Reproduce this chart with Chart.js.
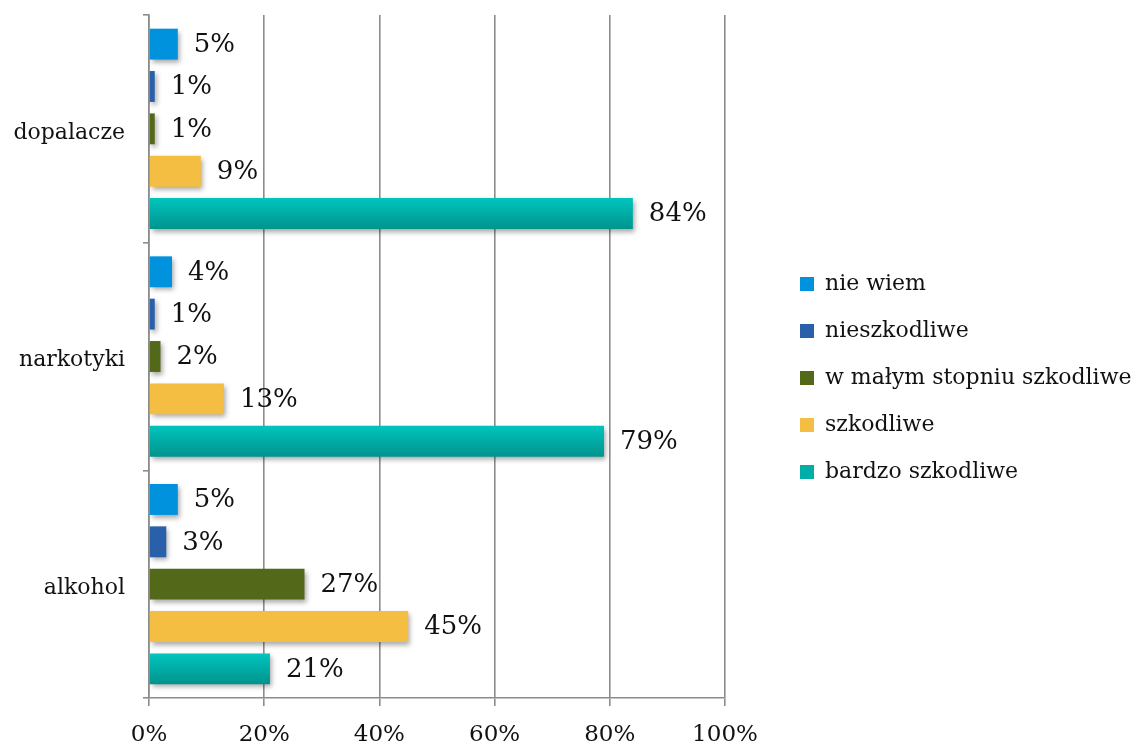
<!DOCTYPE html>
<html>
<head>
<meta charset="utf-8">
<script src="https://cdn.jsdelivr.net/npm/chart.js@4.4.1/dist/chart.umd.min.js"></script>
<style>
  html, body { margin: 0; padding: 0; background: #fff; }
  #wrap { width: 1143px; height: 747px; }
</style>
</head>
<body>
<div id="wrap"><canvas id="harmChart" width="1143" height="747"></canvas></div>
<script>
// categories top to bottom
const categories = ['dopalacze', 'narkotyki', 'alkohol'];
const seriesNames = ['nie wiem', 'nieszkodliwe', 'w małym stopniu szkodliwe', 'szkodliwe', 'bardzo szkodliwe'];

// percent values per category
const nieWiem = [5, 4, 5];
const nieszkodliwe = [1, 1, 3];
const wMalymStopniu = [1, 2, 27];
const szkodliwe = [9, 13, 45];
const bardzoSzkodliwe = [84, 79, 21];

const xTickValues = [0, 20, 40, 60, 80, 100];

const seriesColors = ['#0192de', '#2a5fa9', '#536818', '#f3be41', '#00aea7'];
const tealTop = '#00c5be';
const tealBottom = '#00938d';

const CAT_PCT = 0.93;
const BAR_PCT = 0.73;
const serif = "'DejaVu Serif', serif";

Chart.defaults.font.family = serif;
Chart.defaults.color = '#111';

// vertical gradient for the teal bars, placed from the category scale
function tealFill(context) {
  const chart = context.chart;
  const yScale = chart.scales.y;
  if (!chart.chartArea || !yScale || context.dataIndex === undefined) return seriesColors[4];
  const center = yScale.getPixelForValue(context.dataIndex);
  const full = (yScale.height / categories.length) * CAT_PCT;
  const slot = full / seriesNames.length;
  const mid = center - full / 2 + slot * (context.datasetIndex + 0.5);
  const half = (slot * BAR_PCT) / 2;
  const g = chart.ctx.createLinearGradient(0, mid - half, 0, mid + half);
  g.addColorStop(0, tealTop);
  g.addColorStop(1, tealBottom);
  return g;
}

// legend sits apart from the plot, like the original
const legendSpacer = {
  id: 'legendSpacer',
  beforeInit(chart) {
    const origFit = chart.legend.fit;
    chart.legend.fit = function () {
      origFit.call(this);
      this.width = 418;
    };
  },
  afterLayout(chart) {
    chart.legend.left += 50;
    chart.legend.top -= 3;
    chart.legend.bottom -= 3;
  }
};

// drop shadow under bars + value labels
const barValueLabels = {
  id: 'barValueLabels',
  beforeDatasetsDraw(chart) {
    const c = chart.ctx;
    c.save();
    c.shadowColor = 'rgba(0,0,0,0.35)';
    c.shadowBlur = 5;
    c.shadowOffsetX = 2;
    c.shadowOffsetY = 3;
  },
  afterDatasetsDraw(chart) {
    const c = chart.ctx;
    c.restore();
    c.save();
    c.font = '26px ' + serif;
    c.fillStyle = '#111';
    c.textAlign = 'left';
    c.textBaseline = 'middle';
    chart.data.datasets.forEach((ds, i) => {
      chart.getDatasetMeta(i).data.forEach((bar, j) => {
        c.fillText(ds.data[j] + '%', bar.x + 16, bar.y + 1);
      });
    });
    c.restore();
  }
};

const seriesData = [nieWiem, nieszkodliwe, wMalymStopniu, szkodliwe, bardzoSzkodliwe];

const datasets = seriesNames.map((name, i) => ({
  label: name,
  data: seriesData[i],
  backgroundColor: i === 4 ? tealFill : seriesColors[i],
  borderWidth: 0,
  categoryPercentage: CAT_PCT,
  barPercentage: BAR_PCT
}));

const gridGray = '#8c8c8c';

new Chart(document.getElementById('harmChart').getContext('2d'), {
  type: 'bar',
  data: { labels: categories, datasets },
  options: {
    indexAxis: 'y',
    responsive: false,
    animation: false,
    layout: { padding: { top: 15, left: 0, right: 0, bottom: 0 } },
    scales: {
      x: {
        min: 0,
        max: 100,
        afterBuildTicks: (scale) => { scale.ticks = xTickValues.map(v => ({ value: v })); },
        afterFit: (scale) => { scale.height = 49; },
        ticks: {
          callback: (v) => v + '%',
          font: { size: 23 },
          color: '#111',
          padding: 15,
          maxRotation: 0
        },
        grid: { color: gridGray, lineWidth: 1.6, tickLength: 8 },
        border: { color: gridGray, width: 1.6 }
      },
      y: {
        afterFit: (scale) => {
          scale.width = 149;
          scale.paddingTop = 0;
          scale.paddingBottom = 0;
        },
        ticks: { font: { size: 22 }, color: '#111', padding: 18, labelOffset: 4 },
        grid: { offset: true, drawOnChartArea: false, color: gridGray, lineWidth: 1.6, tickLength: 6 },
        border: { color: gridGray, width: 1.6 }
      }
    },
    plugins: {
      legend: {
        position: 'right',
        align: 'center',
        labels: {
          font: { size: 22 },
          color: '#111',
          boxWidth: 14,
          boxHeight: 14,
          padding: 25,
          generateLabels: () => seriesNames.map((name, i) => ({
            text: name,
            fillStyle: seriesColors[i],
            strokeStyle: seriesColors[i],
            lineWidth: 0,
            fontColor: '#111',
            hidden: false,
            datasetIndex: i
          }))
        }
      },
      tooltip: { enabled: false }
    }
  },
  plugins: [legendSpacer, barValueLabels]
});
</script>
</body>
</html>
